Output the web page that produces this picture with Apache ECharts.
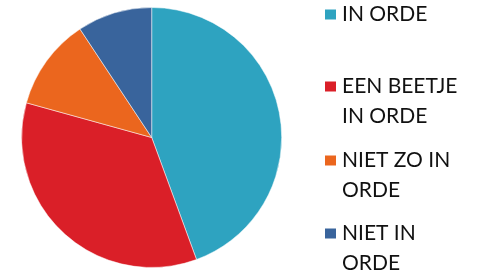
<!DOCTYPE html>
<html>
<head>
<meta charset="utf-8">
<script src="https://cdn.jsdelivr.net/npm/echarts@6/dist/echarts.min.js"></script>
<style>
  html, body { margin: 0; padding: 0; background: #fff; }
  #chart { width: 477px; height: 275px; }
</style>
</head>
<body>
<div id="chart"></div>
<script>
var categories = ['IN ORDE', 'EEN BEETJE IN ORDE', 'NIET ZO IN ORDE', 'NIET IN ORDE'];
var labels = ['IN ORDE', 'EEN BEETJE\nIN ORDE', 'NIET ZO IN\nORDE', 'NIET IN\nORDE'];
var values = [44.4, 34.9, 11.4, 9.3];
var colors = ['#2ea3c0', '#da1f28', '#eb661e', '#39649c'];

var myChart = echarts.init(document.getElementById('chart'));

// icon centre for each legend entry
var iconMid = [14.5, 86.5, 160.5, 233.5];

var legends = categories.map(function (name, i) {
    var twoLines = labels[i].indexOf('\n') >= 0;
    return {
        data: [name],
        left: 323,
        // an empty first line keeps the icon level with the first text line
        top: twoLines ? iconMid[i] - 45 : iconMid[i] - 15,
        padding: 0,
        icon: 'rect',
        itemWidth: 13,
        itemHeight: 12,
        selectedMode: false,
        formatter: function () { return twoLines ? '\n' + labels[i] : labels[i]; },
        textStyle: {
            fontFamily: 'Lato',
            fontSize: 21,
            lineHeight: 30,
            color: '#111'
        }
    };
});

var option = {
    animation: false,
    color: colors,
    legend: legends,
    series: [
        {
            type: 'pie',
            center: [151.7, 137.5],
            radius: 130,
            startAngle: 90,
            label: { show: false },
            labelLine: { show: false },
            itemStyle: { borderColor: '#fff', borderWidth: 0.5 },
            data: categories.map(function (name, i) {
                return { name: name, value: values[i] };
            })
        }
    ]
};
myChart.setOption(option);
</script>
</body>
</html>
